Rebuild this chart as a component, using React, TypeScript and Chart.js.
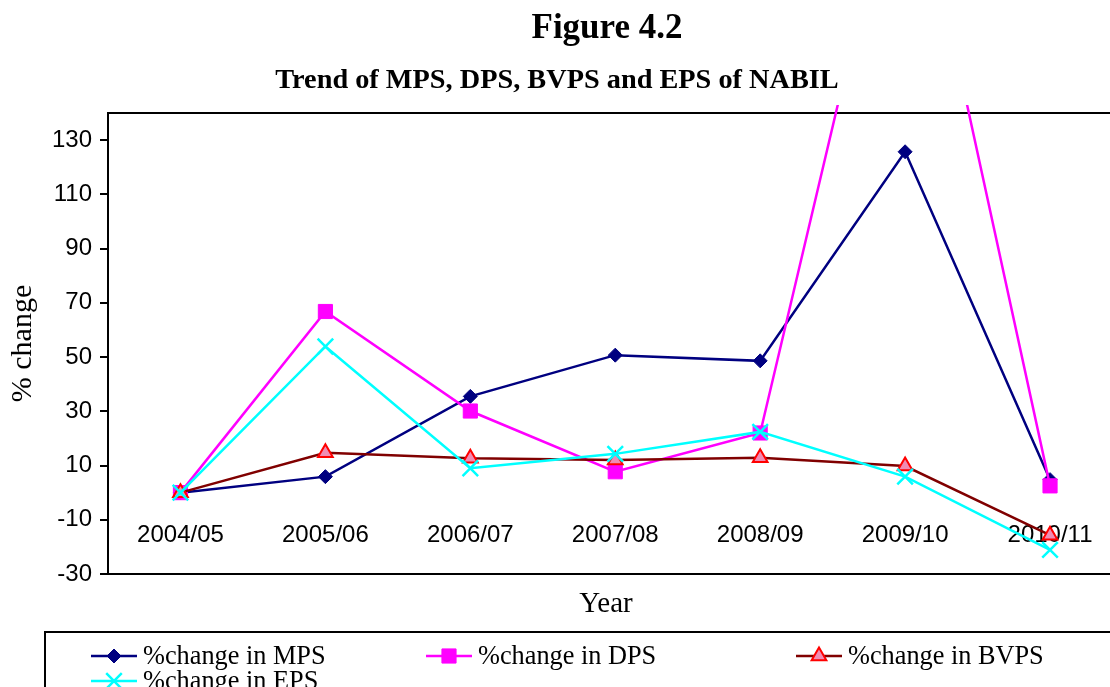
import React, { useEffect, useRef } from "react";
import { Chart, registerables } from "chart.js";

Chart.register(...registerables);

const years = ["2004/05", "2005/06", "2006/07", "2007/08", "2008/09", "2009/10", "2010/11"];
const mpsChange = [0, 5.9, 35.5, 50.7, 48.6, 125.7, 4.8];
const dpsChange = [0, 66.8, 30.1, 7.7, 22.0, 248, 2.5];
const bvpsChange = [0, 14.7, 12.7, 12.0, 12.9, 9.8, -15.7];
const epsChange = [0, 53.9, 9.0, 14.3, 22.4, 5.9, -21.1];
const yTicks = [-30, -10, 10, 30, 50, 70, 90, 110, 130];

const titleText = "Figure 4.2";
const subtitleText = "Trend of MPS, DPS, BVPS and EPS of NABIL";
const xTitle = "Year";
const yTitle = "% change";

const SERIF = "'Liberation Serif', 'Times New Roman', serif";
const SANS = "'Liberation Sans', Arial, sans-serif";

function drawMarker(ctx: CanvasRenderingContext2D, style: string, x: number, y: number, r: number, fill: string, stroke: string, bw: number) {
  ctx.save();
  ctx.beginPath();
  ctx.lineWidth = bw;
  ctx.fillStyle = fill;
  ctx.strokeStyle = stroke;
  if (style === "rectRot") {
    ctx.moveTo(x - r, y);
    ctx.lineTo(x, y - r);
    ctx.lineTo(x + r, y);
    ctx.lineTo(x, y + r);
    ctx.closePath();
    ctx.fill();
    ctx.stroke();
  } else if (style === "rect") {
    const s = Math.SQRT1_2 * r;
    ctx.rect(x - s, y - s, 2 * s, 2 * s);
    ctx.fill();
    ctx.stroke();
  } else if (style === "triangle") {
    let rad = 0;
    ctx.moveTo(x + Math.sin(rad) * r, y - Math.cos(rad) * r);
    rad += (2 * Math.PI) / 3;
    ctx.lineTo(x + Math.sin(rad) * r, y - Math.cos(rad) * r);
    rad += (2 * Math.PI) / 3;
    ctx.lineTo(x + Math.sin(rad) * r, y - Math.cos(rad) * r);
    ctx.closePath();
    ctx.fill();
    ctx.stroke();
  } else if (style === "crossRot") {
    const o = Math.SQRT1_2 * r;
    ctx.moveTo(x - o, y - o);
    ctx.lineTo(x + o, y + o);
    ctx.moveTo(x - o, y + o);
    ctx.lineTo(x + o, y - o);
    ctx.stroke();
  }
  ctx.restore();
}

const decorPlugin = {
  id: "decor",
  beforeDatasetsDraw(chart: any) {
    const { ctx, chartArea } = chart;
    ctx.save();
    ctx.strokeStyle = "#000";
    ctx.lineWidth = 2;
    ctx.strokeRect(chartArea.left, chartArea.top, chartArea.right - chartArea.left, chartArea.bottom - chartArea.top);
    ctx.restore();
  },
  afterDraw(chart: any) {
    const { ctx } = chart;
    ctx.save();
    ctx.fillStyle = "#000";
    ctx.textAlign = "center";
    ctx.textBaseline = "alphabetic";
    ctx.font = `bold 35px ${SERIF}`;
    ctx.fillText(titleText, 607, 38);
    ctx.font = `bold 28.3px ${SERIF}`;
    ctx.fillText(subtitleText, 557, 88);
    ctx.font = `29px ${SERIF}`;
    ctx.fillText(xTitle, 606, 612);

    // legend box
    ctx.strokeStyle = "#000";
    ctx.lineWidth = 2;
    ctx.strokeRect(45, 632, 1200, 200);

    const pos = [
      [91, 656],
      [426, 656],
      [796, 656],
      [91, 681],
    ];
    chart.data.datasets.forEach((ds: any, i: number) => {
      const [lx, ly] = pos[i];
      ctx.save();
      ctx.strokeStyle = ds.borderColor;
      ctx.lineWidth = ds.borderWidth;
      ctx.beginPath();
      ctx.moveTo(lx, ly);
      ctx.lineTo(lx + 46, ly);
      ctx.stroke();
      ctx.restore();
      drawMarker(ctx, ds.pointStyle, lx + 23, ly, ds.pointRadius, ds.pointBackgroundColor, ds.pointBorderColor, ds.pointBorderWidth);
      ctx.fillStyle = "#000";
      ctx.textAlign = "left";
      ctx.textBaseline = "middle";
      ctx.font = `26.3px ${SERIF}`;
      ctx.fillText(ds.label, lx + 52, ly + 1);
    });
    ctx.restore();
  },
};

export default function App() {
  const ref = useRef<HTMLCanvasElement | null>(null);

  useEffect(() => {
    if (!ref.current) return;
    const clip = { left: 2, top: 8, right: 2, bottom: 2 };
    const chart = new Chart(ref.current, {
      type: "line",
      data: {
        labels: years,
        datasets: [
          {
            label: "%change in MPS",
            data: mpsChange,
            borderColor: "#000080",
            backgroundColor: "#000080",
            borderWidth: 2.5,
            pointStyle: "rectRot",
            pointRadius: 7,
            pointBackgroundColor: "#000080",
            pointBorderColor: "#000080",
            pointBorderWidth: 1,
            tension: 0,
            order: 3,
            clip,
          },
          {
            label: "%change in DPS",
            data: dpsChange,
            borderColor: "#FF00FF",
            backgroundColor: "#FF00FF",
            borderWidth: 2.5,
            pointStyle: "rect",
            pointRadius: 10,
            pointBackgroundColor: "#FF00FF",
            pointBorderColor: "#FF00FF",
            pointBorderWidth: 1,
            tension: 0,
            order: 2,
            clip,
          },
          {
            label: "%change in BVPS",
            data: bvpsChange,
            borderColor: "#800000",
            backgroundColor: "#800000",
            borderWidth: 2.5,
            pointStyle: "triangle",
            pointRadius: 8.5,
            pointBackgroundColor: "#F08CB4",
            pointBorderColor: "#FF0000",
            pointBorderWidth: 2,
            tension: 0,
            order: 1,
            clip,
          },
          {
            label: "%change in EPS",
            data: epsChange,
            borderColor: "#00FFFF",
            backgroundColor: "#00FFFF",
            borderWidth: 2.5,
            pointStyle: "crossRot",
            pointRadius: 11,
            pointBackgroundColor: "#00FFFF",
            pointBorderColor: "#00FFFF",
            pointBorderWidth: 2.5,
            tension: 0,
            order: 0,
            clip,
          },
        ],
      },
      options: {
        animation: false,
        responsive: false,
        layout: { padding: { top: 113, right: 2, bottom: 126, left: 0 } },
        plugins: {
          legend: { display: false },
          title: { display: false },
          tooltip: { enabled: false },
        },
        scales: {
          x: {
            type: "category",
            offset: true,
            position: { y: -10 } as any,
            grid: { display: false },
            border: { display: false },
            ticks: {
              font: { family: SANS, size: 24 },
              color: "#000",
              padding: -7,
              maxRotation: 0,
              autoSkip: false,
            },
          },
          y: {
            min: -30,
            max: 140,
            afterBuildTicks: (s: any) => {
              s.ticks = yTicks.map((v) => ({ value: v }));
            },
            afterFit: (s: any) => {
              s.width = 108;
            },
            grid: {
              display: true,
              drawOnChartArea: false,
              drawTicks: true,
              tickLength: 8,
              color: "#000",
              lineWidth: 2,
            },
            border: { display: true, color: "#000", width: 2 },
            ticks: {
              font: { family: SANS, size: 24 },
              color: "#000",
              padding: 8,
            },
            title: {
              display: true,
              text: yTitle,
              font: { family: SERIF, size: 30 },
              color: "#000",
              padding: { top: 5, bottom: 0 },
            },
          },
        },
      },
      plugins: [decorPlugin],
    });
    return () => chart.destroy();
  }, []);

  return (
    <div
      style={{
        position: "fixed",
        left: 0,
        top: 0,
        width: 1110,
        height: 687,
        overflow: "hidden",
        background: "#fff",
      }}
    >
      <canvas ref={ref} width={1136} height={700} style={{ display: "block" }} />
    </div>
  );
}
